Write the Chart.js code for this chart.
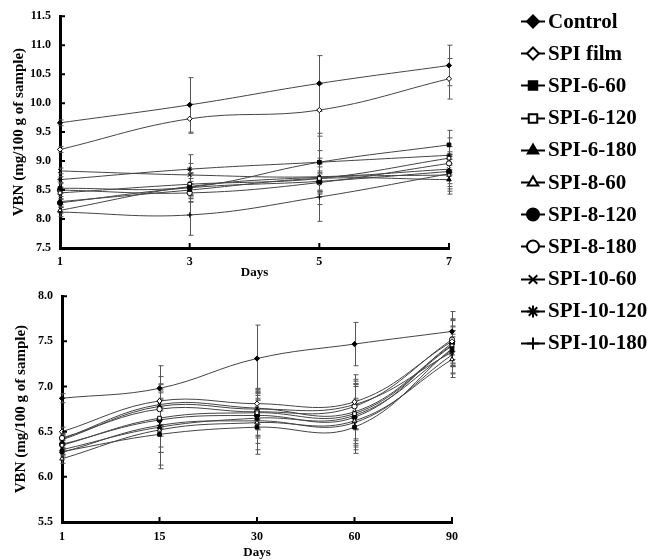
<!DOCTYPE html>
<html>
<head>
<meta charset="utf-8">
<script src="https://cdn.jsdelivr.net/npm/chart.js@4.4.1/dist/chart.umd.min.js"></script>
<style>
  html, body { margin: 0; padding: 0; background: #fff; }
  #wrap { position: relative; width: 664px; height: 560px; }
  #topBox { position: absolute; left: 0; top: 0; width: 480px; height: 280px; }
  #botBox { position: absolute; left: 0; top: 280px; width: 480px; height: 280px; }
  #legend { position: absolute; left: 520px; top: 5px; font: bold 21px 'Liberation Serif', 'Times New Roman', serif; color: #000; }
  .item { height: 32.2px; display: flex; align-items: center; white-space: nowrap; }
  .item canvas { margin-right: 2px; }
</style>
</head>
<body>
<div id="wrap">
  <div id="topBox"><canvas id="topChart"></canvas></div>
  <div id="botBox"><canvas id="botChart"></canvas></div>
  <div id="legend"></div>
</div>
<script>
// Series names and marker shapes
const seriesNames = ['Control', 'SPI film', 'SPI-6-60', 'SPI-6-120', 'SPI-6-180', 'SPI-8-60',
    'SPI-8-120', 'SPI-8-180', 'SPI-10-60', 'SPI-10-120', 'SPI-10-180'];
const markers = [
    ['rectRot', true], ['rectRot', false], ['rect', true], ['rect', false],
    ['triangle', true], ['triangle', false], ['circle', true], ['circle', false],
    ['crossRot', false], ['star', false], ['cross', false]
];

// Upper panel: days 1-7
const shortDays = ['1', '3', '5', '7'];
const shortTicks = [7.5, 8.0, 8.5, 9.0, 9.5, 10.0, 10.5, 11.0, 11.5];
const shortValues = [
    [9.66, 9.97, 10.34, 10.65],
    [9.20, 9.73, 9.88, 10.42],
    [8.53, 8.55, 8.98, 9.28],
    [8.45, 8.60, 8.70, 9.05],
    [8.30, 8.50, 8.70, 8.68],
    [8.15, 8.56, 8.72, 8.76],
    [8.28, 8.54, 8.65, 8.82],
    [8.50, 8.45, 8.63, 8.96],
    [8.83, 8.76, 8.73, 8.86],
    [8.68, 8.86, 8.98, 9.10],
    [8.12, 8.07, 8.38, 8.78]
];
const shortErrors = [
    [0.05, 0.47, 0.48, 0.35],
    [0.05, 0.25, 0.45, 0.35],
    [0.08, 0.15, 0.50, 0.25],
    [0.06, 0.20, 0.25, 0.20],
    [0.05, 0.15, 0.20, 0.25],
    [0.05, 0.20, 0.25, 0.20],
    [0.06, 0.25, 0.40, 0.30],
    [0.05, 0.15, 0.20, 0.20],
    [0.05, 0.20, 0.25, 0.25],
    [0.05, 0.25, 0.20, 0.30],
    [0.08, 0.35, 0.42, 0.30]
];

// Lower panel: days 1-90
const longDays = ['1', '15', '30', '60', '90'];
const longTicks = [5.5, 6.0, 6.5, 7.0, 7.5, 8.0];
const longValues = [
    [6.87, 6.98, 7.31, 7.47, 7.61],
    [6.50, 6.84, 6.81, 6.83, 7.50],
    [6.28, 6.47, 6.55, 6.55, 7.42],
    [6.35, 6.65, 6.71, 6.70, 7.45],
    [6.30, 6.55, 6.65, 6.68, 7.40],
    [6.20, 6.52, 6.60, 6.62, 7.30],
    [6.36, 6.63, 6.68, 6.66, 7.48],
    [6.43, 6.75, 6.72, 6.78, 7.52],
    [6.42, 6.80, 6.76, 6.72, 7.46],
    [6.41, 6.78, 6.75, 6.80, 7.38],
    [6.27, 6.57, 6.62, 6.60, 7.35]
];
const longErrors = [
    [0.05, 0.25, 0.37, 0.24, 0.22],
    [0.05, 0.27, 0.17, 0.30, 0.25],
    [0.04, 0.38, 0.30, 0.25, 0.20],
    [0.05, 0.20, 0.25, 0.30, 0.22],
    [0.05, 0.42, 0.20, 0.35, 0.18],
    [0.05, 0.25, 0.30, 0.25, 0.20],
    [0.05, 0.30, 0.25, 0.40, 0.25],
    [0.05, 0.20, 0.20, 0.25, 0.22],
    [0.05, 0.22, 0.18, 0.30, 0.20],
    [0.05, 0.25, 0.22, 0.28, 0.24],
    [0.05, 0.30, 0.25, 0.25, 0.20]
];

const FONT = "'Liberation Serif', 'Times New Roman', serif";

// vertical error bars with small caps
const errorBars = {
    id: 'errorBars',
    beforeDatasetsDraw(chart) {
        const ctx = chart.ctx;
        const xs = chart.scales.x, ys = chart.scales.y;
        ctx.save();
        ctx.strokeStyle = '#555';
        ctx.lineWidth = 1;
        chart.data.datasets.forEach(ds => {
            ds.errors.forEach((e, i) => {
                const px = Math.round(xs.getPixelForValue(i)) + 0.5;
                const t = ys.getPixelForValue(ds.data[i] + e);
                const b = ys.getPixelForValue(ds.data[i] - e);
                ctx.beginPath();
                ctx.moveTo(px, t); ctx.lineTo(px, b);
                ctx.moveTo(px - 2, t); ctx.lineTo(px + 3, t);
                ctx.moveTo(px - 2, b); ctx.lineTo(px + 3, b);
                ctx.stroke();
            });
        });
        ctx.restore();
    }
};

// short tick marks drawn on the inside of both axes
const innerTicks = {
    id: 'innerTicks',
    afterDraw(chart) {
        const ctx = chart.ctx;
        const a = chart.chartArea;
        const xs = chart.scales.x, ys = chart.scales.y;
        ctx.save();
        ctx.strokeStyle = '#000';
        ctx.lineWidth = 2;
        ctx.beginPath();
        ys.ticks.forEach(t => {
            const py = ys.getPixelForValue(t.value);
            ctx.moveTo(a.left, py); ctx.lineTo(a.left + 5, py);
        });
        xs.ticks.forEach((t, i) => {
            const px = xs.getPixelForValue(i);
            ctx.moveTo(px, a.bottom); ctx.lineTo(px, a.bottom - 5);
        });
        ctx.stroke();
        ctx.restore();
    }
};

function makeDatasets(values, errors) {
    return values.map((v, i) => ({
        label: seriesNames[i],
        data: v,
        errors: errors[i],
        borderColor: '#444',
        borderWidth: 1,
        pointStyle: markers[i][0],
        pointRadius: 2.6,
        pointBorderWidth: 1,
        pointBorderColor: '#000',
        pointBackgroundColor: markers[i][1] ? '#000' : '#fff',
        tension: 0.4,
        fill: false
    }));
}

function makeChart(id, labels, values, errors, ticks, pad, xHeight, labelPad, titlePad) {
    return new Chart(document.getElementById(id), {
        type: 'line',
        data: { labels: labels, datasets: makeDatasets(values, errors) },
        plugins: [errorBars, innerTicks],
        options: {
            responsive: true,
            maintainAspectRatio: false,
            animation: false,
            layout: { padding: pad },
            plugins: { legend: { display: false }, tooltip: { enabled: false } },
            scales: {
                x: {
                    offset: false,
                    grid: { display: false, drawTicks: false },
                    border: { display: true, color: '#000', width: 3 },
                    ticks: { color: '#000', padding: labelPad, font: { family: FONT, size: 12, weight: 'bold' } },
                    title: { display: true, text: 'Days', color: '#000', padding: { top: titlePad, bottom: 0 },
                        font: { family: FONT, size: 13, weight: 'bold' } },
                    afterFit: s => { s.height = xHeight; }
                },
                y: {
                    min: ticks[0],
                    max: ticks[ticks.length - 1],
                    afterBuildTicks: s => { s.ticks = ticks.map(v => ({ value: v })); },
                    grid: { display: false, drawTicks: false },
                    border: { display: true, color: '#000', width: 3 },
                    ticks: { color: '#000', padding: 9, font: { family: FONT, size: 12, weight: 'bold' },
                        callback: v => Number(v).toFixed(1) },
                    title: { display: true, text: 'VBN (mg/100 g of sample)', color: '#000',
                        padding: { top: 10, bottom: 2 }, font: { family: FONT, size: 15, weight: 'bold' } },
                    afterFit: s => { s.width = 60; }
                }
            }
        }
    });
}

makeChart('topChart', shortDays, shortValues, shortErrors, shortTicks,
    { left: 0, top: 11, right: 31, bottom: 0 }, 32, 7, 8);
makeChart('botChart', longDays, longValues, longErrors, longTicks,
    { left: 2, top: 12, right: 28, bottom: 0 }, 38, 8, 5);

// legend built as html, markers drawn with the library helper
const legend = document.getElementById('legend');
seriesNames.forEach((name, i) => {
    const row = document.createElement('div');
    row.className = 'item';
    const c = document.createElement('canvas');
    c.width = 26; c.height = 20;
    const ctx = c.getContext('2d');
    ctx.strokeStyle = '#000';
    ctx.lineWidth = 2;
    ctx.beginPath();
    ctx.moveTo(1, 10.5); ctx.lineTo(25, 10.5);
    ctx.stroke();
    ctx.fillStyle = markers[i][1] ? '#000' : '#fff';
    Chart.helpers.drawPoint(ctx, { pointStyle: markers[i][0], radius: 6, rotation: 0, borderWidth: 1.5 }, 13, 10.5);
    row.appendChild(c);
    const span = document.createElement('span');
    span.textContent = name;
    row.appendChild(span);
    legend.appendChild(row);
});
</script>
</body>
</html>
